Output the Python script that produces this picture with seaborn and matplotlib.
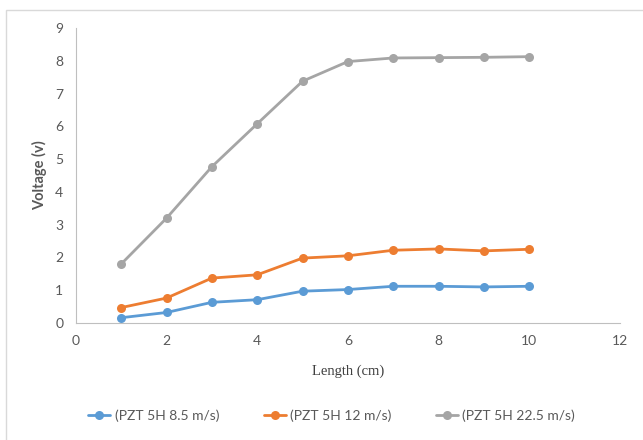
import pandas as pd
import seaborn as sns
import matplotlib.pyplot as plt
from matplotlib.patches import Rectangle

# Data
length_cm = [1, 2, 3, 4, 5, 6, 7, 8, 9, 10]
v_8_5 = [0.16, 0.32, 0.63, 0.71, 0.97, 1.02, 1.12, 1.12, 1.10, 1.12]
v_12 = [0.47, 0.76, 1.37, 1.47, 1.98, 2.05, 2.22, 2.26, 2.20, 2.25]
v_22_5 = [1.80, 3.20, 4.77, 6.08, 7.38, 7.98, 8.09, 8.10, 8.11, 8.13]
series_names = ['(PZT 5H 8.5 m/s)', '(PZT 5H 12 m/s)', '(PZT 5H 22.5 m/s)']
colors = ['#5B9BD5', '#ED7D31', '#A5A5A5']

df = pd.DataFrame({
    'Length': length_cm * 3,
    'Voltage': v_8_5 + v_12 + v_22_5,
    'Series': [s for s in series_names for _ in length_cm],
})

sns.set_style('white')
plt.rcParams['font.family'] = ['Lato', 'DejaVu Sans']

fig = plt.figure(figsize=(6.43, 4.40), dpi=100)
ax = fig.add_axes([0.118, 0.266, 0.846, 0.670])

# light chart-area border
fig.patches.append(Rectangle((0.009, -0.1), 1.2, 1.077, transform=fig.transFigure,
                             fill=False, edgecolor='#D9D9D9', linewidth=1))

sns.lineplot(data=df, x='Length', y='Voltage', hue='Series', palette=colors,
             marker='o', markersize=6.5, markeredgewidth=0, linewidth=2, ax=ax)

ax.set_xlim(0, 12)
ax.set_ylim(0, 9)
ax.set_xticks(range(0, 13, 2))
ax.set_yticks(range(0, 10))
for side in ['top', 'right']:
    ax.spines[side].set_visible(False)
for side in ['left', 'bottom']:
    ax.spines[side].set_color('#BFBFBF')
    ax.spines[side].set_linewidth(0.8)
ax.tick_params(axis='both', length=0, labelsize=10, labelcolor='#595959', pad=9)

ax.set_xlabel('Length (cm)', family='Liberation Serif', fontsize=10.5, color='#404040', labelpad=12)
ax.set_ylabel('Voltage (v)', fontsize=10.5, fontweight='bold', color='#595959', labelpad=6)

ax.legend(loc='upper center', bbox_to_anchor=(0.47, -0.25), ncol=3, frameon=False,
          fontsize=10, labelcolor='#595959', handlelength=1.6, columnspacing=3.2,
          handletextpad=0.3)

fig.savefig('out.png', dpi=100)
